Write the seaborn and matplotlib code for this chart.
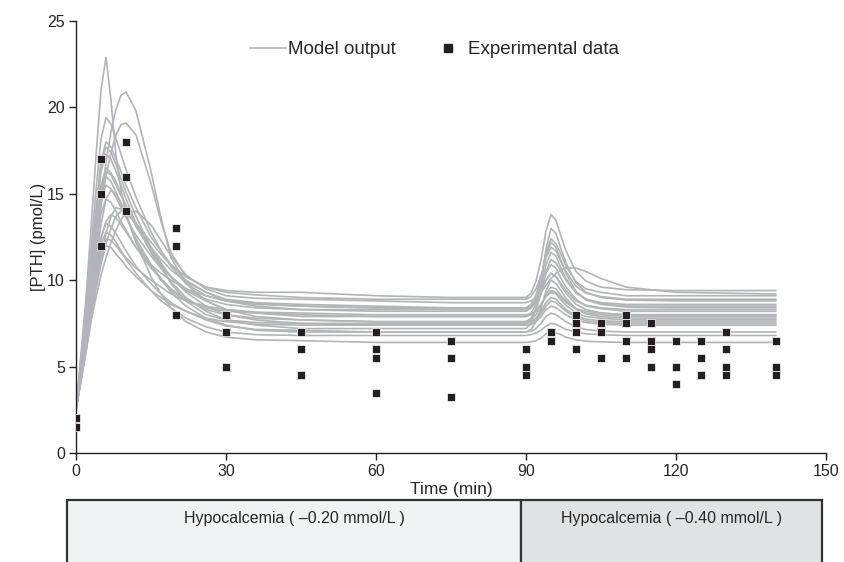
import seaborn as sns
import matplotlib.pyplot as plt
import pandas as pd
from matplotlib.patches import Rectangle
from matplotlib.lines import Line2D

sns.set_style('ticks')
plt.rcParams['font.family'] = ['Liberation Sans', 'DejaVu Sans']

# model output: time grid (min) and one row of [PTH] per simulated curve
model_time = [0, 2, 3, 4, 5, 6, 7, 8, 9, 10, 12, 15, 17, 19, 22, 26, 30, 36, 45, 60,
              75, 88, 90, 91, 92, 93, 94, 95, 96, 97, 98, 100, 102, 105, 110, 120, 140]
model_curves = [
    [2.5, 9.0, 13.0, 17.2, 21.0, 22.9, 20.4, 17.2, 15.2, 13.9, 12.2, 10.8, 10.0, 9.4, 8.8, 8.4, 8.2, 8.1, 8.0, 7.9,
     7.9, 7.9, 7.9, 8.0, 8.2, 8.6, 9.1, 9.4, 9.3, 9.0, 8.7, 8.35, 8.2, 8.1, 8.0, 8.0, 8.0],
    [2.5, 7.0, 9.5, 12.0, 14.5, 16.8, 18.6, 19.9, 20.7, 20.9, 19.8, 16.3, 13.6, 11.3, 9.8, 9.1, 8.8, 8.6, 8.5, 8.4,
     8.4, 8.4, 8.4, 8.5, 8.8, 9.3, 10.0, 10.4, 10.2, 9.8, 9.4, 8.8, 8.55, 8.4, 8.3, 8.3, 8.3],
    [2.5, 7.2, 9.8, 12.2, 14.3, 16.0, 17.4, 18.4, 19.0, 19.1, 18.4, 15.6, 13.4, 11.6, 10.2, 9.6, 9.4, 9.3, 9.3, 9.1,
     9.0, 9.0, 9.0, 9.25, 9.95, 11.15, 12.85, 13.8, 13.45, 12.55, 11.7, 10.5, 9.95, 9.6, 9.45, 9.4, 9.4],
    [2.5, 8.4, 11.8, 15.2, 18.2, 19.4, 19.05, 18.2, 17.3, 16.4, 14.8, 12.8, 11.7, 10.8, 9.8, 8.8, 8.3, 7.9, 7.7, 7.6,
     7.6, 7.6, 7.6, 7.8, 8.3, 9.2, 10.5, 11.2, 11.0, 10.5, 10.0, 9.25, 8.9, 8.7, 8.6, 8.6, 8.6],
    [2.5, 7.9, 11.0, 14.1, 16.9, 18.0, 17.7, 17.0, 16.3, 15.5, 14.2, 12.5, 11.7, 10.9, 10.0, 9.3, 8.8, 8.5, 8.3, 8.2,
     8.2, 8.2, 8.2, 8.4, 9.0, 10.1, 11.6, 12.4, 12.1, 11.5, 10.8, 9.9, 9.5, 9.3, 9.1, 9.1, 9.1],
    [2.5, 7.8, 10.9, 13.9, 16.6, 17.7, 17.4, 16.7, 15.9, 15.1, 13.7, 11.9, 11.0, 10.2, 9.3, 8.5, 8.0, 7.7, 7.5, 7.4,
     7.4, 7.4, 7.4, 7.45, 7.6, 7.9, 8.3, 8.5, 8.4, 8.2, 8.0, 7.7, 7.55, 7.45, 7.4, 7.4, 7.4],
    [2.5, 7.7, 10.6, 13.6, 16.3, 17.3, 17.0, 16.3, 15.5, 14.7, 13.3, 11.6, 10.7, 9.9, 9.0, 8.2, 7.7, 7.4, 7.2, 7.2,
     7.2, 7.2, 7.2, 7.5, 8.4, 9.8, 11.8, 13.0, 12.7, 11.8, 11.0, 9.85, 9.3, 9.0, 8.85, 8.8, 8.8],
    [2.5, 7.4, 10.2, 13.0, 15.5, 16.5, 16.2, 15.7, 15.0, 14.3, 13.1, 11.7, 10.9, 10.2, 9.4, 8.8, 8.3, 8.1, 7.9, 7.9,
     7.9, 7.9, 7.9, 8.1, 8.6, 9.6, 10.9, 11.6, 11.4, 10.7, 10.1, 9.3, 8.9, 8.65, 8.5, 8.5, 8.5],
    [2.5, 7.2, 9.9, 12.6, 15.1, 16.0, 15.7, 15.1, 14.4, 13.7, 12.4, 10.9, 10.1, 9.3, 8.5, 7.8, 7.4, 7.1, 7.0, 7.0,
     7.0, 7.0, 7.0, 7.15, 7.6, 8.35, 9.4, 10.0, 9.8, 9.4, 8.95, 8.35, 8.05, 7.9, 7.8, 7.8, 7.8],
    [2.5, 7.05, 9.65, 12.25, 14.6, 15.5, 15.3, 14.8, 14.2, 13.6, 12.6, 11.4, 10.7, 10.2, 9.5, 8.9, 8.6, 8.4, 8.3, 8.3,
     8.3, 8.3, 8.3, 8.45, 8.8, 9.5, 10.4, 10.9, 10.7, 10.1, 9.6, 8.9, 8.5, 8.35, 8.2, 8.2, 8.2],
    [2.5, 6.6, 9.0, 11.2, 13.2, 14.7, 15.2, 15.0, 14.5, 13.8, 12.2, 10.2, 9.2, 8.4, 7.6, 7.0, 6.7, 6.55, 6.5, 6.4,
     6.4, 6.4, 6.4, 6.43, 6.5, 6.65, 6.9, 7.0, 6.95, 6.85, 6.7, 6.55, 6.47, 6.43, 6.4, 6.4, 6.4],
    [2.5, 6.8, 9.2, 11.65, 13.85, 14.7, 14.5, 14.0, 13.4, 12.9, 11.9, 10.7, 10.1, 9.5, 8.9, 8.3, 8.0, 7.8, 7.7, 7.6,
     7.6, 7.6, 7.6, 7.7, 8.0, 8.5, 9.2, 9.6, 9.5, 9.1, 8.8, 8.3, 8.1, 8.0, 7.9, 7.9, 7.9],
    [2.5, 6.2, 8.1, 9.9, 11.4, 12.7, 13.7, 14.2, 14.1, 13.9, 13.3, 12.2, 11.5, 10.9, 10.2, 9.6, 9.3, 9.15, 9.0, 8.9,
     8.9, 8.9, 8.9, 9.05, 9.5, 10.25, 11.3, 11.9, 11.7, 11.05, 10.5, 9.65, 9.25, 9.05, 8.9, 8.9, 8.9],
    [2.5, 6.0, 7.8, 9.5, 10.9, 12.1, 13.0, 13.7, 14.0, 13.9, 13.3, 11.9, 10.8, 9.8, 8.8, 8.0, 7.7, 7.55, 7.5, 7.5,
     7.5, 7.5, 7.5, 7.6, 7.8, 8.2, 8.7, 9.0, 8.9, 8.6, 8.3, 7.95, 7.75, 7.65, 7.6, 7.6, 7.6],
    [2.5, 6.6, 8.8, 10.8, 12.4, 13.4, 13.8, 13.6, 13.2, 12.8, 11.9, 10.9, 10.4, 10.0, 9.5, 9.1, 8.8, 8.65, 8.5, 8.4,
     8.3, 8.3, 8.3, 8.4, 8.7, 9.25, 10.0, 10.4, 10.2, 9.7, 9.25, 8.6, 8.3, 8.1, 8.0, 8.0, 8.0],
    [2.5, 6.3, 8.4, 10.6, 12.5, 13.3, 13.1, 12.7, 12.2, 11.7, 10.8, 9.8, 9.2, 8.7, 8.2, 7.7, 7.35, 7.15, 7.1, 7.0,
     7.0, 7.0, 7.0, 7.05, 7.2, 7.5, 7.9, 8.1, 8.0, 7.8, 7.6, 7.3, 7.15, 7.05, 7.0, 7.0, 7.0],
    [2.5, 6.1, 8.2, 10.2, 12.1, 12.8, 12.6, 12.2, 11.7, 11.2, 10.4, 9.4, 8.8, 8.4, 7.8, 7.3, 7.0, 6.85, 6.8, 6.8,
     6.8, 6.8, 6.8, 6.85, 6.95, 7.1, 7.35, 7.5, 7.45, 7.3, 7.15, 7.0, 6.9, 6.85, 6.8, 6.8, 6.8],
    [2.5, 6.0, 8.0, 9.9, 11.7, 12.4, 12.3, 12.0, 11.6, 11.3, 10.7, 10.0, 9.6, 9.2, 8.8, 8.5, 8.3, 8.15, 8.1, 8.0,
     8.0, 8.0, 8.0, 8.05, 8.25, 8.6, 9.05, 9.3, 9.2, 8.85, 8.55, 8.1, 7.9, 7.8, 7.7, 7.7, 7.7],
    [2.5, 5.8, 7.7, 9.6, 11.3, 12.0, 11.9, 11.5, 11.2, 10.8, 10.2, 9.4, 9.0, 8.6, 8.2, 7.8, 7.6, 7.45, 7.4, 7.4,
     7.4, 7.4, 7.4, 7.45, 7.7, 8.05, 8.5, 8.8, 8.7, 8.45, 8.2, 7.85, 7.65, 7.55, 7.5, 7.5, 7.5],
    [2.5, 5.9, 7.6, 9.0, 10.3, 11.3, 12.2, 12.9, 13.5, 13.9, 14.0, 13.2, 12.3, 11.4, 10.3, 9.5, 9.1, 8.95, 8.9, 8.8,
     8.7, 8.7, 8.7, 8.8, 9.0, 9.3, 9.7, 10.1, 10.4, 10.6, 10.7, 10.7, 10.5, 10.1, 9.6, 9.3, 9.2],
    [2.5, 7.3, 10.1, 12.85, 15.3, 16.3, 16.1, 15.5, 14.9, 14.3, 13.2, 11.9, 11.2, 10.6, 9.9, 9.3, 8.9, 8.7, 8.6, 8.5,
     8.4, 8.4, 8.4, 8.6, 9.15, 10.1, 11.45, 12.2, 11.9, 11.15, 10.4, 9.35, 8.85, 8.6, 8.45, 8.4, 8.4],
]

# experimental data
exp_time = [0, 0, 5, 5, 5, 10, 10, 10, 20, 20, 20, 30, 30, 30, 45, 45, 45,
            60, 60, 60, 60, 75, 75, 75, 90, 90, 90, 95, 95,
            100, 100, 100, 100, 105, 105, 105, 110, 110, 110, 110,
            115, 115, 115, 115, 120, 120, 120, 125, 125, 125,
            130, 130, 130, 130, 140, 140, 140]
exp_pth = [2, 1.5, 17, 15, 12, 18, 16, 14, 13, 12, 8, 8, 7, 5, 7, 6, 4.5,
           7, 6, 5.5, 3.5, 6.5, 5.5, 3.25, 6, 5, 4.5, 7, 6.5,
           8, 7.5, 7, 6, 7.5, 7, 5.5, 8, 7.5, 6.5, 5.5,
           7.5, 6.5, 6, 5, 6.5, 5, 4, 6.5, 5.5, 4.5,
           7, 6, 5, 4.5, 6.5, 5, 4.5]

phase_labels = ['Hypocalcemia ( \u20130.20 mmol/L )', 'Hypocalcemia ( \u20130.40 mmol/L )']

line_col = '#b3b4b7'
dot_col = '#231f20'

rows = []
for i, curve in enumerate(model_curves):
    for t, v in zip(model_time, curve):
        rows.append({'run': i, 'time': t, 'pth': v})
model = pd.DataFrame(rows)
exp = pd.DataFrame({'time': exp_time, 'pth': exp_pth})

fig = plt.figure(figsize=(8.44, 5.62), dpi=100)
ax = fig.add_axes([76 / 844, 1 - 453 / 562, 750 / 844, 432 / 562])

sns.lineplot(data=model, x='time', y='pth', units='run', estimator=None,
             color=line_col, lw=1.2, ax=ax, legend=False)
sns.scatterplot(data=exp, x='time', y='pth', marker='s', s=34, color=dot_col,
                edgecolor='white', linewidth=0.5, ax=ax, zorder=3, legend=False)

ax.set_xlim(0, 150)
ax.set_ylim(0, 25)
ax.set_xticks(range(0, 151, 30))
ax.set_yticks(range(0, 26, 5))
ax.tick_params(labelsize=11.5, length=5, width=1, color='#222', pad=3)
for s in ['left', 'bottom']:
    ax.spines[s].set_color('#222')
    ax.spines[s].set_linewidth(1)
sns.despine(ax=ax)
ax.set_xlabel('Time (min)', fontsize=12.5, labelpad=2)
ax.set_ylabel('[PTH] (pmol/L)', fontsize=12, labelpad=1)

handles = [Line2D([], [], color=line_col, lw=1.2),
           Line2D([], [], color=dot_col, marker='s', ms=5.5, ls='none')]
fig.legend(handles, ['Model output', 'Experimental data'], loc='upper left',
           bbox_to_anchor=(250 / 844, 1 - 41 / 562), ncol=2, frameon=False,
           fontsize=13.5, handlelength=1.9, handletextpad=0.15, columnspacing=1.8,
           borderpad=0, borderaxespad=0)

# phase bar below the axis
x0, x_mid, x1 = 67 / 844, 521 / 844, 822 / 844
bar_bottom, bar_top = -0.02, 1 - 500 / 562
fills = ['#f1f2f4', '#e1e2e4']
for (a, b), lab, fc in zip([(x0, x_mid), (x_mid, x1)], phase_labels, fills):
    fig.patches.append(Rectangle((a, bar_bottom), b - a, bar_top - bar_bottom,
                                 transform=fig.transFigure, facecolor=fc,
                                 edgecolor='#333', lw=1.6))
    fig.text((a + b) / 2, 1 - 519 / 562, lab, ha='center', va='center', fontsize=11.5)

fig.savefig('out.png', dpi=100)
